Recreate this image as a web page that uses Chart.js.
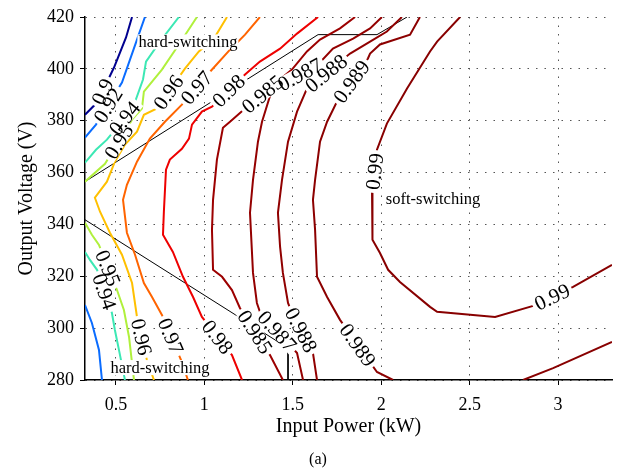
<!DOCTYPE html>
<html>
<head>
<meta charset="utf-8">
<script src="https://cdn.jsdelivr.net/npm/chart.js@4.4.0/dist/chart.umd.min.js"></script>
<style>
  html, body { margin: 0; padding: 0; background: #fff; }
  #wrap { width: 620px; height: 471px; }
</style>
</head>
<body>
<div id="wrap"><canvas id="contourChart" width="620" height="471"></canvas></div>
<script>
// Ejes
const xTicks = [0.5, 1, 1.5, 2, 2.5, 3];
const yTicks = [280, 300, 320, 340, 360, 380, 400, 420];

// Curvas de eficiencia: potencia (kW) y tensión (V)
const p090 = [0.591, 0.557, 0.489, 0.393, 0.325];
const v090 = [420, 412.1, 400.5, 387.0, 382.3];

const p092a = [0.664, 0.619, 0.534, 0.387, 0.325];
const v092a = [420, 411.3, 394.7, 378.5, 373.5];
const p092b = [0.325, 0.364, 0.404, 0.421];
const v092b = [308.9, 302.0, 291.6, 280];

const p094a = [0.856, 0.749, 0.670, 0.653, 0.596, 0.449, 0.387, 0.325];
const v094a = [420, 410.5, 402.8, 395.9, 385.0, 372.7, 368.8, 363.8];
const p094b = [0.325, 0.353, 0.393, 0.477, 0.494, 0.517, 0.551];
const v094b = [329.4, 326.3, 322.5, 305.9, 299.3, 291.6, 280];

const p095a = [0.958, 0.856, 0.760, 0.658, 0.647, 0.591, 0.438, 0.325];
const v095a = [420, 409.4, 399.7, 391.2, 384.7, 380.4, 363.4, 356.5];
const p095b = [0.325, 0.364, 0.404, 0.506, 0.545, 0.574, 0.602];
const v095b = [340.6, 336.0, 332.1, 314.7, 307.0, 296.6, 280];

const p096 = [1.128, 1.054, 0.969, 0.890, 0.732, 0.658, 0.619, 0.551, 0.494, 0.449, 0.381, 0.410, 0.466, 0.534, 0.591, 0.619, 0.675, 0.715];
const v096 = [420, 411.7, 406.7, 400.1, 384.7, 382.3, 375.8, 370.8, 364.2, 356.5, 350.3, 344.9, 336.8, 328.3, 317.4, 304.3, 287.7, 280];

const p097 = [1.314, 1.230, 1.145, 1.032, 0.873, 0.777, 0.692, 0.619, 0.562, 0.540, 0.562, 0.608, 0.658, 0.704, 0.760, 0.873, 0.907];
const v097 = [420, 413.2, 407.4, 398.9, 386.2, 379.6, 373.1, 364.2, 355.3, 349.5, 336.8, 328.3, 317.4, 312.0, 305.1, 286.9, 280];

const p098 = [1.643, 1.524, 1.428, 1.314, 1.230, 1.043, 0.986, 0.930, 0.913, 0.873, 0.805, 0.783, 0.771, 0.766, 0.822, 0.879, 0.936, 0.986, 1.156, 1.213];
const v098 = [420, 413.6, 407.8, 402.8, 397.8, 385.4, 383.5, 378.5, 373.1, 369.2, 365.0, 361.1, 344.9, 336.0, 329.4, 319.8, 312.0, 304.3, 289.6, 280];

const p0985 = [1.852, 1.767, 1.654, 1.580, 1.495, 1.230, 1.145, 1.105, 1.071, 1.049, 1.043, 1.049, 1.100, 1.156, 1.201, 1.371, 1.444];
const v0985 = [420, 415.6, 411.3, 406.7, 399.7, 384.7, 379.6, 377.3, 365.0, 349.5, 337.9, 322.5, 319.8, 314.7, 307.8, 289.6, 280];

const p0987 = [2.004, 1.937, 1.841, 1.727, 1.643, 1.382, 1.326, 1.303, 1.275, 1.258, 1.275, 1.297, 1.314, 1.524, 1.558];
const v0987 = [420, 415.6, 411.7, 407.8, 401.7, 392.0, 379.6, 371.9, 357.2, 344.5, 321.3, 309.7, 306.3, 290.4, 280];

const p0988 = [2.117, 2.032, 1.937, 1.824, 1.580, 1.524, 1.473, 1.439, 1.416, 1.428, 1.444, 1.473, 1.484, 1.614, 1.637];
const v0988 = [420, 414.4, 410.5, 405.9, 392.4, 383.5, 371.9, 357.2, 344.5, 331.4, 321.3, 309.7, 307.8, 290.4, 280];

const p0989 = [2.219, 2.163, 1.993, 1.937, 1.925, 1.750, 1.694, 1.654, 1.626, 1.614, 1.626, 1.637, 1.694, 1.767, 1.976, 2.067];
const v0989 = [420, 413.2, 409.4, 405.9, 404.0, 387.4, 379.6, 371.9, 357.2, 349.5, 337.9, 319.8, 312.0, 303.2, 283.1, 280];

const p099a = [2.446, 2.316, 2.276, 2.146, 2.032, 1.976, 1.948, 1.948, 1.953, 1.993, 2.039, 2.106, 2.276, 2.316, 2.644, 2.859, 3.085, 3.305];
const v099a = [420, 410.5, 406.7, 392.4, 378.9, 368.8, 352.6, 337.9, 334.1, 329.0, 322.5, 317.8, 308.2, 306.3, 304.3, 308.6, 315.9, 324.4];
const p099b = [2.802, 2.972, 3.305];
const v099b = [280, 284.6, 294.7];

// Fronteras entre zonas
const fronteraSupX = [0.325, 1.643, 1.976, 2.146];
const fronteraSupY = [356.5, 413.2, 413.2, 420];
const fronteraInfX = [0.325, 1.473, 1.473];
const fronteraInfY = [341.8, 292.3, 280];

// Etiquetas de nivel (posición aproximada sobre la curva)
const labelText = ['0.9', '0.92', '0.94', '0.95', '0.96', '0.97', '0.98', '0.985', '0.987', '0.988', '0.989', '0.99',
                   '0.94', '0.95', '0.96', '0.97', '0.98', '0.985', '0.987', '0.988', '0.989', '0.99'];
const labelX = [0.423, 0.455, 0.548, 0.515, 0.80, 0.955, 1.137, 1.326, 1.541, 1.69, 1.831, 1.95,
                0.43, 0.456, 0.645, 0.812, 1.075, 1.285, 1.412, 1.548, 1.868, 2.966];
const labelY = [391.2, 386, 381, 372, 390.8, 392.8, 391.6, 390.5, 397.8, 398.2, 395.1, 360.5,
                314, 323.2, 296.6, 297, 296.6, 298.5, 298.9, 299.3, 293.5, 312.1];

// Textos de zona
const notaTexto = ['hard-switching', 'hard-switching', 'soft-switching'];
const notaX = [0.907, 0.749, 2.293];
const notaY = [410.2, 284.6, 349.9];

const serif = "'Liberation Serif', 'Times New Roman', serif";

const colores = {
  '0.9': '#00008f', '0.92': '#0a6cff', '0.94': '#3ce8b4', '0.95': '#b0f03c',
  '0.96': '#ffc000', '0.97': '#ff6400', '0.98': '#ee0000', '0.985': '#9c0000',
  '0.987': '#940000', '0.988': '#900000', '0.989': '#8c0000', '0.99': '#880000'
};

function pares(xs, ys) {
  return xs.map((x, i) => ({ x: x, y: ys[i] }));
}

const curvas = [
  ['0.9', p090, v090], ['0.92', p092a, v092a], ['0.92', p092b, v092b],
  ['0.94', p094a, v094a], ['0.94', p094b, v094b],
  ['0.95', p095a, v095a], ['0.95', p095b, v095b],
  ['0.96', p096, v096], ['0.97', p097, v097], ['0.98', p098, v098],
  ['0.985', p0985, v0985], ['0.987', p0987, v0987], ['0.988', p0988, v0988],
  ['0.989', p0989, v0989], ['0.99', p099a, v099a], ['0.99', p099b, v099b]
];

const datasets = curvas.map(c => ({
  label: c[0],
  data: pares(c[1], c[2]),
  showLine: true,
  borderColor: colores[c[0]],
  borderWidth: 2,
  pointRadius: 0,
  tension: 0,
  fill: false
}));

[[fronteraSupX, fronteraSupY], [fronteraInfX, fronteraInfY]].forEach(f => {
  datasets.push({
    label: 'frontera',
    data: pares(f[0], f[1]),
    showLine: true,
    borderColor: '#000',
    borderWidth: 1,
    pointRadius: 0,
    tension: 0,
    fill: false
  });
});

// Rótulos sobre las curvas, zonas y pie "(a)"
const rotulos = {
  id: 'rotulos',
  afterDatasetsDraw(chart) {
    const { ctx, scales: { x, y } } = chart;
    const items = [];
    labelText.forEach((txt, i) => {
      const px = x.getPixelForValue(labelX[i]);
      const py = y.getPixelForValue(labelY[i]);
      let best = null;
      chart.data.datasets.forEach(ds => {
        if (ds.label !== txt) return;
        for (let k = 0; k < ds.data.length - 1; k++) {
          const ax = x.getPixelForValue(ds.data[k].x), ay = y.getPixelForValue(ds.data[k].y);
          const bx = x.getPixelForValue(ds.data[k + 1].x), by = y.getPixelForValue(ds.data[k + 1].y);
          const dx = bx - ax, dy = by - ay;
          const L = dx * dx + dy * dy;
          let t = L ? ((px - ax) * dx + (py - ay) * dy) / L : 0;
          t = Math.max(0, Math.min(1, t));
          const qx = ax + t * dx, qy = ay + t * dy;
          const d = (qx - px) * (qx - px) + (qy - py) * (qy - py);
          if (!best || d < best.d) best = { d: d, x: qx, y: qy, a: Math.atan2(dy, dx) };
        }
      });
      let a = best.a;
      if (a > Math.PI / 2) a -= Math.PI;
      if (a <= -Math.PI / 2) a += Math.PI;
      items.push({ txt: txt, x: best.x, y: best.y, a: a });
    });

    ctx.save();
    ctx.font = '21px ' + serif;
    ctx.textAlign = 'center';
    ctx.textBaseline = 'alphabetic';
    // primero los huecos, luego el texto
    items.forEach(it => {
      const w = ctx.measureText(it.txt).width;
      ctx.save();
      ctx.translate(it.x, it.y);
      ctx.rotate(it.a);
      ctx.fillStyle = '#fff';
      ctx.fillRect(-w / 2 - 3, -7, w + 6, 14);
      ctx.restore();
    });
    items.forEach(it => {
      ctx.save();
      ctx.translate(it.x, it.y);
      ctx.rotate(it.a);
      ctx.fillStyle = '#000';
      ctx.fillText(it.txt, 0, 7);
      ctx.restore();
    });

    ctx.font = '16.5px ' + serif;
    notaTexto.forEach((txt, i) => {
      const nx = x.getPixelForValue(notaX[i]);
      const ny = y.getPixelForValue(notaY[i]);
      const w = ctx.measureText(txt).width;
      ctx.fillStyle = '#fff';
      ctx.fillRect(nx - w / 2 - 1, ny - 8, w + 2, 15);
      ctx.fillStyle = '#000';
      ctx.fillText(txt, nx, ny + 5);
    });

    ctx.font = '16px ' + serif;
    ctx.fillText('(a)', 318, 464);
    ctx.restore();
  }
};

new Chart(document.getElementById('contourChart').getContext('2d'), {
  type: 'scatter',
  data: { datasets: datasets },
  options: {
    responsive: false,
    animation: false,
    devicePixelRatio: 1,
    layout: { padding: { top: 17, right: 8, left: 0, bottom: 0 } },
    plugins: {
      legend: { display: false },
      tooltip: { enabled: false }
    },
    scales: {
      x: {
        type: 'linear',
        min: 0.325,
        max: 3.305,
        afterBuildTicks: s => { s.ticks = xTicks.map(v => ({ value: v })); },
        afterFit: s => { s.height = 91; },
        grid: { color: '#555', lineWidth: 1, tickLength: 5, tickColor: '#000', tickWidth: 1 },
        border: { display: true, color: '#000', width: 1.5, dash: [1.5, 7] },
        ticks: { color: '#000', font: { family: serif, size: 18 }, padding: 9, maxRotation: 0,
                 callback: v => String(v) },
        title: { display: true, text: 'Input Power (kW)', color: '#000', font: { family: serif, size: 20 }, padding: { top: 0, bottom: 32 } }
      },
      y: {
        type: 'linear',
        min: 280,
        max: 420,
        afterBuildTicks: s => { s.ticks = yTicks.map(v => ({ value: v })); },
        afterFit: s => { s.width = 85; },
        grid: { color: '#555', lineWidth: 1, tickLength: 5, tickColor: '#000', tickWidth: 1 },
        border: { display: true, color: '#000', width: 1.5, dash: [1.5, 7] },
        ticks: { color: '#000', font: { family: serif, size: 18 }, padding: 6 },
        title: { display: true, text: 'Output Voltage (V)', color: '#000', font: { family: serif, size: 20 }, padding: { top: 15, bottom: 0 } }
      }
    }
  },
  plugins: [rotulos]
});
</script>
</body>
</html>
